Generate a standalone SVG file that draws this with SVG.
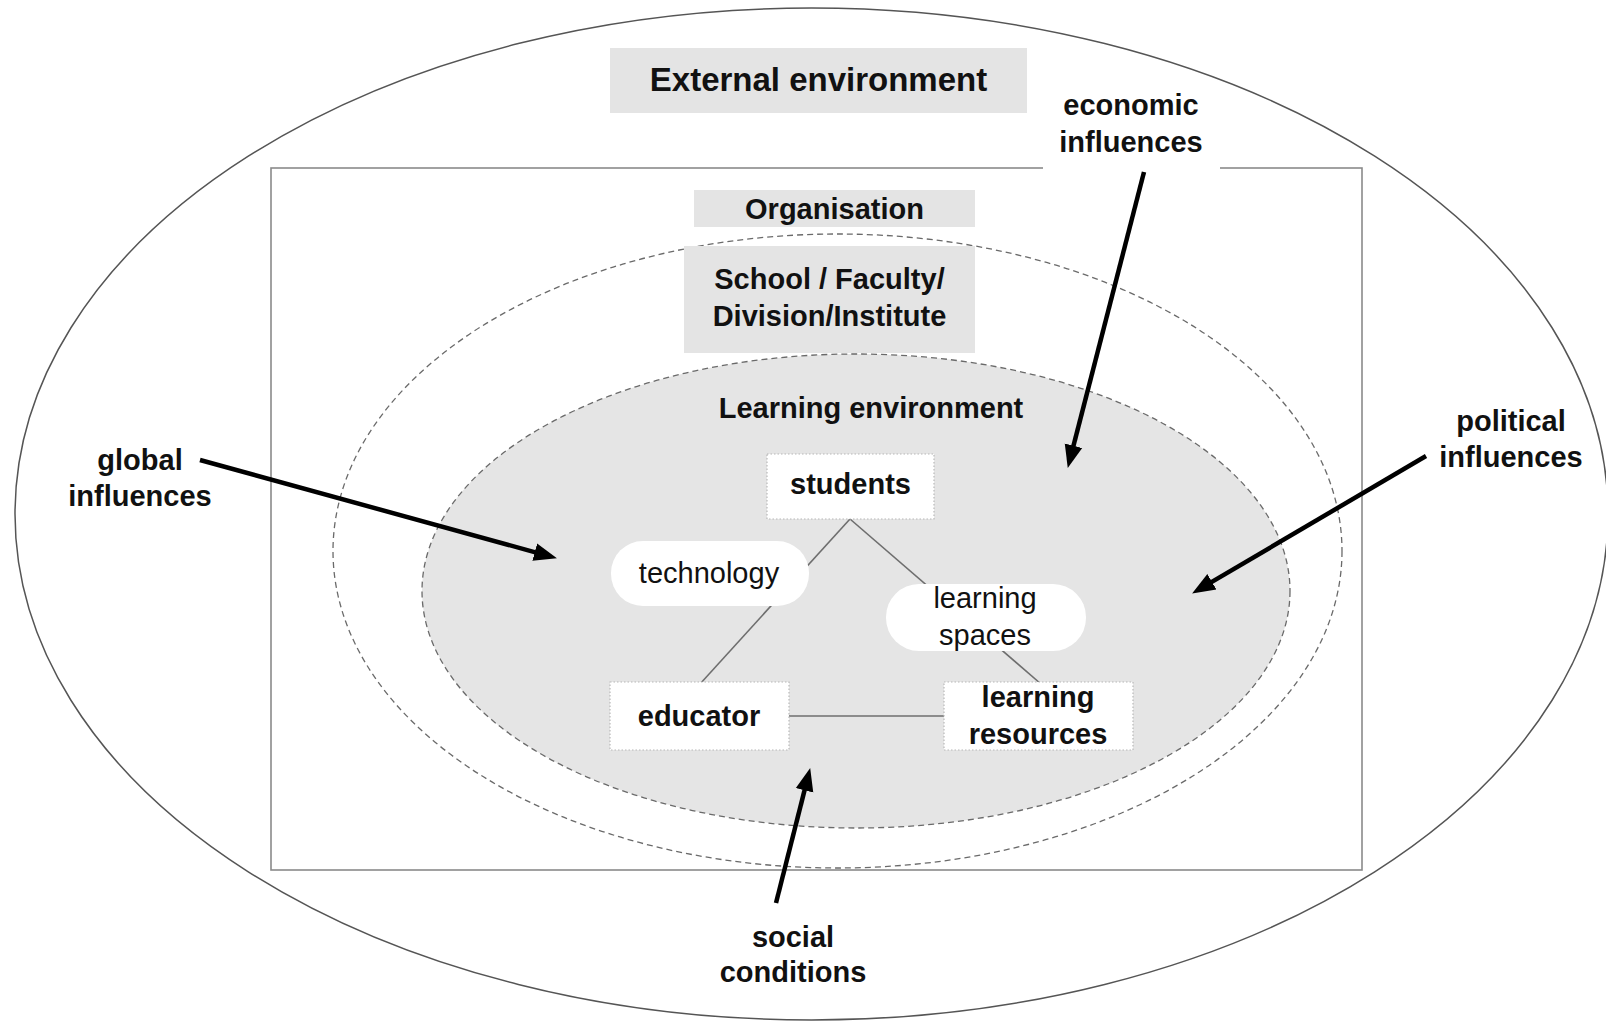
<svg xmlns="http://www.w3.org/2000/svg" width="1606" height="1025" viewBox="0 0 1606 1025">
  <style>
    text { font-family: "Liberation Sans", Arial, Helvetica, sans-serif; fill: #111; text-anchor: middle; }
    .b { font-weight: bold; font-size: 29px; }
    .n { font-weight: normal; font-size: 29px; }
    .title { font-weight: bold; font-size: 33px; }
    .band { fill: #e4e4e4; stroke: none; }
    .dash { fill: none; stroke: #6a6a6a; stroke-width: 1.3; stroke-dasharray: 6 4; }
    .node { fill: #ffffff; stroke: #b8b8b8; stroke-width: 1.2; stroke-dasharray: 1.5 2; }
    .pill { fill: #ffffff; stroke: none; }
    .link { stroke: #6e6e6e; stroke-width: 1.6; fill: none; }
    .force { stroke: #000; stroke-width: 4.5; fill: none; marker-end: url(#head); }
  </style>
  <defs>
    <marker id="head" markerUnits="userSpaceOnUse" markerWidth="24" markerHeight="20" refX="10" refY="10" orient="auto">
      <path d="M0,1 L23,10 L0,19 z" fill="#000"/>
    </marker>
  </defs>

  <rect width="1606" height="1025" fill="#ffffff"/>

  <!-- External environment -->
  <g id="external">
    <ellipse cx="811.5" cy="514" rx="796.5" ry="506" fill="none" stroke="#555" stroke-width="1.5"/>
    <rect class="band" x="610" y="48" width="417" height="65"/>
    <text class="title" x="818.5" y="91">External environment</text>
  </g>

  <!-- Organisation -->
  <g id="organisation">
    <rect x="271" y="168" width="1091" height="702" fill="none" stroke="#8a8a8a" stroke-width="1.6"/>
    <rect class="band" x="694" y="190" width="281" height="37"/>
    <text class="b" x="834.5" y="219">Organisation</text>
  </g>

  <!-- School / Faculty / Division / Institute -->
  <g id="school">
    <ellipse class="dash" cx="837.5" cy="551" rx="504.5" ry="317"/>
    <rect class="band" x="684" y="246" width="291" height="107"/>
    <text class="b" x="829.5" y="289">School / Faculty/</text>
    <text class="b" x="829.5" y="326">Division/Institute</text>
  </g>

  <!-- Learning environment -->
  <g id="learning-environment">
    <ellipse cx="856" cy="591" rx="434" ry="237" fill="#e5e5e5" stroke="#6a6a6a" stroke-width="1.3" stroke-dasharray="6 4"/>
    <text class="b" x="871" y="418">Learning environment</text>
  </g>

  <!-- links between the core elements -->
  <g id="links">
    <line class="link" x1="850" y1="519" x2="700" y2="684"/>
    <line class="link" x1="850" y1="519" x2="1041" y2="684"/>
    <line class="link" x1="789" y1="716" x2="944" y2="716"/>
  </g>

  <g id="students">
    <rect class="node" x="767" y="454" width="167" height="65"/>
    <text class="b" x="850.5" y="494">students</text>
  </g>

  <g id="technology">
    <rect class="pill" x="611" y="541" width="198" height="65" rx="32" ry="32"/>
    <text class="n" x="709" y="583">technology</text>
  </g>

  <g id="learning-spaces">
    <rect class="pill" x="886" y="584" width="200" height="67" rx="33" ry="33"/>
    <text class="n" x="985" y="608">learning</text>
    <text class="n" x="985" y="645">spaces</text>
  </g>

  <g id="educator">
    <rect class="node" x="610" y="682" width="179" height="68"/>
    <text class="b" x="699" y="726">educator</text>
  </g>

  <g id="learning-resources">
    <rect class="node" x="944" y="682" width="189" height="68"/>
    <text class="b" x="1038" y="707">learning</text>
    <text class="b" x="1038" y="744">resources</text>
  </g>

  <!-- outside influences -->
  <g id="economic">
    <rect x="1043" y="86" width="177" height="85" fill="#ffffff"/>
    <text class="b" x="1131" y="115">economic</text>
    <text class="b" x="1131" y="152">influences</text>
  </g>

  <g id="global">
    <text class="b" x="140" y="470">global</text>
    <text class="b" x="140" y="506">influences</text>
  </g>

  <g id="political">
    <text class="b" x="1511" y="431">political</text>
    <text class="b" x="1511" y="467">influences</text>
  </g>

  <g id="social">
    <text class="b" x="793" y="947">social</text>
    <text class="b" x="793" y="982">conditions</text>
  </g>

  <g id="connectors">
    <line class="force" x1="1144" y1="172" x2="1071" y2="455.4"/>
    <line class="force" x1="200" y1="460" x2="544.4" y2="554.8"/>
    <line class="force" x1="1426" y1="456" x2="1203.3" y2="586.9"/>
    <line class="force" x1="776" y1="903" x2="807" y2="780.6"/>
  </g>
</svg>
